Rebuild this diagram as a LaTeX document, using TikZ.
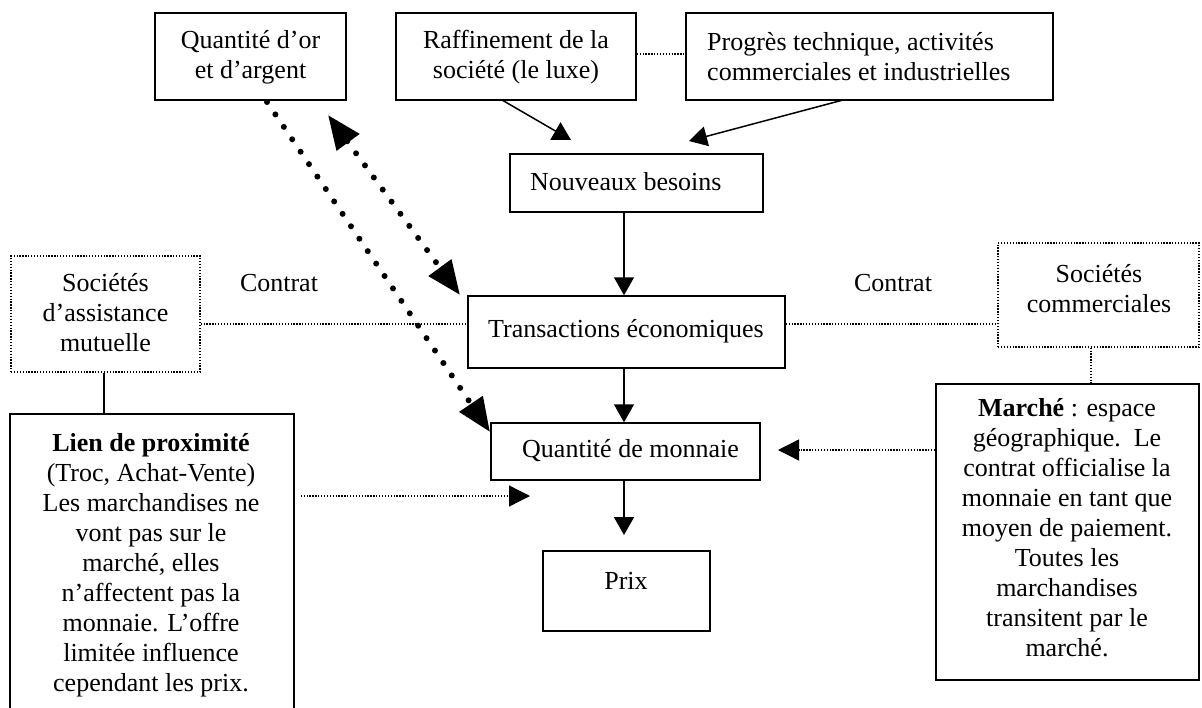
\documentclass[tikz,border=0pt]{standalone}
\usepackage{fontspec}
\setmainfont{Liberation Serif}
\usetikzlibrary{arrows.meta,fit}
\begin{document}
\begin{tikzpicture}[x=1pt,y=-1pt,
  every node/.style={font=\fontsize{26}{30}\selectfont},
  box/.style={draw, line width=1.5pt, inner sep=0pt},
  dbox/.style={draw, line width=1.3pt, dash pattern=on 1.3pt off 1.6pt, inner sep=0pt},
  txt/.style={inner sep=0pt, align=center},
  ltxt/.style={inner sep=0pt, align=left, anchor=west},
  arr/.style={line width=1.5pt, -{Triangle[length=18pt,width=20pt]}},
  thindots/.style={line width=1.3pt, dash pattern=on 1.3pt off 1.6pt},
  darr/.style={thindots, -{Triangle[length=21pt,width=21pt]}},
  heavydots/.style={line width=6pt, line cap=round, dash pattern=on 0pt off 15pt},
  bighead/.style={-{Triangle[length=34pt,width=27pt]}},
  bigheads/.style={{Triangle[length=34pt,width=27pt]}-{Triangle[length=34pt,width=27pt]}}]
\useasboundingbox (0,0) rectangle (1202,707);
\clip (0,0) rectangle (1202,707);
\fill[white] (0,0) rectangle (1202,707);

% boxes
\node[box, fit={(155,13) (346,100)}] (A) {};
\node[box, fit={(396,13) (636,100)}] (B) {};
\node[box, fit={(686,13) (1053,100)}] (C) {};
\node[box, fit={(510,154) (763,212)}] (D) {};
\node[box, fit={(468,296) (785,368)}] (E) {};
\node[box, fit={(491,423) (760,480)}] (F) {};
\node[box, fit={(543,551) (710,631)}] (G) {};
\node[dbox, fit={(11,256) (200,372)}] (H) {};
\node[dbox, fit={(998,243) (1199,347)}] (I) {};
\node[box, fit={(10,414) (294,740)}] (K) {};
\node[box, fit={(936,384) (1199,680)}] (J) {};

% texts
\node[txt] (At) at (250.5,57) {Quantité d’or\\et d’argent};
\node[txt] (Bt) at (516,57) {Raffinement de la\\société (le luxe)};
\node[ltxt] (Ct) at (707,57) {Progrès technique, activités\\commerciales et industrielles};
\node[ltxt] (Dt) at (530,182) {Nouveaux besoins};
\node[ltxt] (Et) at (488,331) {Transactions économiques};
\node[ltxt] (Ft) at (522,451) {Quantité de monnaie};
\node[txt] (Gt) at (626,581) {Prix};
\node[txt] (Ht) at (105.5,313) {Sociétés\\d’assistance\\mutuelle};
\node[txt] (It) at (1099,289) {Sociétés\\commerciales};
\node[txt, anchor=north] (Kt) at (151,433) {\textbf{Lien de proximité}\\(Troc, Achat-Vente)\\Les marchandises ne\\vont pas sur le\\marché, elles\\n’affectent pas la\\monnaie. L’offre\\limitée influence\\cependant les prix.};
\node[txt] (Jt) at (1067,528) {\textbf{Marché} : espace\\géographique.\ \ Le\\contrat officialise la\\monnaie en tant que\\moyen de paiement.\\Toutes les\\marchandises\\transitent par le\\marché.};
\node[txt] (cl) at (279,283) {Contrat};
\node[txt] (cr) at (893,283) {Contrat};

% helper coordinates
\coordinate (vx) at (624,0);
\coordinate (hy) at (0,324);
\coordinate (kx) at (104,0);
\coordinate (jx) at (1091,0);
\coordinate (fy) at (0,450);
\coordinate (ky) at (0,496);
\coordinate (by) at (0,54);
\coordinate (bd1) at (502,100);
\coordinate (bd2) at (571,140);
\coordinate (cd1) at (843,100);
\coordinate (cd2) at (689,141);
\coordinate (gtip) at (624,535);
\coordinate (ftip) at (778,450);
\coordinate (ktip) at (530,496);
\coordinate (h1s) at (267,102);
\coordinate (h1e) at (490,432);
\coordinate (h2s) at (328,115);
\coordinate (h2e) at (460,295);

% connectors
\draw[thindots] (B.east |- by) -- (C.west |- by);
\draw[arr] (bd1) -- (bd2);
\draw[arr] (cd1) -- (cd2);
\draw[arr] (D.south -| vx) -- (E.north -| vx);
\draw[arr] (E.south -| vx) -- (F.north -| vx);
\draw[arr] (F.south -| vx) -- (gtip);
\draw[thindots] (H.east |- hy) -- (E.west |- hy);
\draw[thindots] (E.east |- hy) -- (I.west |- hy);
\draw[line width=1.5pt] (H.south -| kx) -- (K.north -| kx);
\draw[thindots] (I.south -| jx) -- (J.north -| jx);
\draw[darr] (J.west |- fy) -- (ftip);
\draw[darr, shorten <=6pt] (K.east |- ky) -- (ktip);
\draw[heavydots, bighead] (h1s) -- (h1e);
\draw[heavydots, bigheads] (h2s) -- (h2e);
\end{tikzpicture}
\end{document}
